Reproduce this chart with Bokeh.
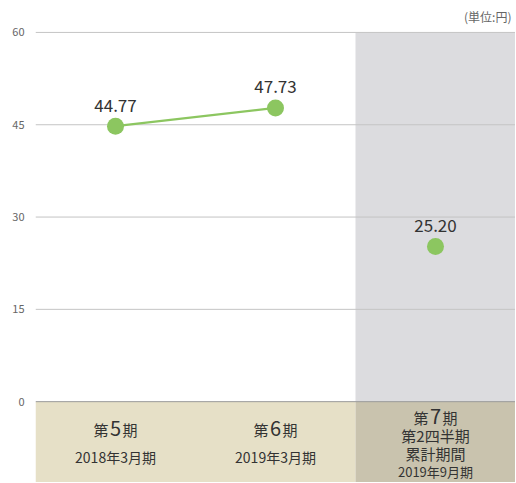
from bokeh.plotting import figure
from bokeh.models import ColumnDataSource, FixedTicker, Range1d
from bokeh.core.properties import value
from bokeh.embed import file_html
from bokeh.resources import INLINE

# ---- data ----
cat_prefix = "第"
cat_nums = ["5", "6", "7"]
cat_suffix = "期"
extra_lines = ["第2四半期", "累計期間"]          # only for the 3rd category
fiscal = ["2018年3月期", "2019年3月期", "2019年9月期"]
eps = [44.77, 47.73, 25.20]
eps_labels = ["44.77", "47.73", "25.20"]
y_ticks = [0, 15, 30, 45, 60]
unit_label = "(単位:円)"

FONT = "Noto Sans CJK JP"
OFF = 1                   # page offset of canvas
PX = 370 / 60.0          # pixels per unit
Y_TOP = 60 + (33 - OFF) / PX
Y_BOT = -(483 - 403) / PX - OFF / PX

def py(page_y):  # page pixel -> data y
    return (403 - page_y) / PX

n = len(eps)
xs = [i + 0.5 for i in range(n)]

p = figure(width=516 - OFF, height=483 - OFF, output_backend="svg", toolbar_location=None,
           x_range=Range1d(0, n), y_range=Range1d(Y_BOT, Y_TOP),
           x_axis_location=None, min_border_left=36 - OFF, min_border_right=0,
           min_border_top=0, min_border_bottom=0)
p.outline_line_color = None
p.xgrid.visible = False
p.ygrid.visible = False
p.background_fill_color = "white"
p.border_fill_color = "white"

# y axis
p.yaxis.ticker = FixedTicker(ticks=y_ticks)
p.yaxis.axis_line_color = None
p.yaxis.major_tick_line_color = None
p.yaxis.minor_tick_line_color = None
p.yaxis.major_label_text_font = FONT
p.yaxis.major_label_text_font_size = "11px"
p.yaxis.major_label_text_color = "#666666"
p.yaxis.major_label_standoff = 5

# bands
p.quad(left=[n - 1], right=[n], bottom=[0], top=[y_ticks[-1]],
       fill_color="#dcdcdf", line_color=None)
p.quad(left=[0], right=[n - 1], bottom=[Y_BOT], top=[0],
       fill_color="#e6e0c7", line_color=None)
p.quad(left=[n - 1], right=[n], bottom=[Y_BOT], top=[0],
       fill_color="#c9c3ae", line_color=None)

# grid lines
grid = [t for t in y_ticks if t != 0]
p.segment(x0=[0] * len(grid), x1=[n] * len(grid), y0=grid, y1=grid,
          line_color="#c4c4c4", line_width=1)
p.segment(x0=[0], x1=[n], y0=[0], y1=[0], line_color="#9a9a9a", line_width=1)

# line + points
green = "#8cc660"
p.line(xs[:2], eps[:2], line_color=green, line_width=2.2)
p.scatter(xs, eps, size=17, fill_color=green, line_color=None)

# value labels
src = ColumnDataSource(dict(x=xs, y=[v + 21 / PX for v in eps], t=eps_labels))
p.text(x="x", y="y", text="t", source=src, text_font=value(FONT),
       text_font_size="17px", text_color="#333333",
       text_align="center", text_baseline="middle")

# category labels
def cat_label(i, page_y, num_size="20px", kan_size="15px"):
    x = xs[i]
    y = py(page_y)
    p.text(x=[x], y=[y], text=[cat_prefix], text_font=value(FONT),
           text_font_size=kan_size, text_color="#333333",
           text_align="right", text_baseline="middle", x_offset=-7)
    p.text(x=[x], y=[y], text=[cat_nums[i]], text_font=value(FONT),
           text_font_size=num_size, text_color="#333333",
           text_align="center", text_baseline="middle", y_offset=-1)
    p.text(x=[x], y=[y], text=[cat_suffix], text_font=value(FONT),
           text_font_size=kan_size, text_color="#333333",
           text_align="left", text_baseline="middle", x_offset=7)

for i in range(n - 1):
    cat_label(i, 431)
    p.text(x=[xs[i]], y=[py(458)], text=[fiscal[i]], text_font=value(FONT),
           text_font_size="14px", text_color="#333333",
           text_align="center", text_baseline="middle")

i = n - 1
cat_label(i, 419)
for line, yy in zip(extra_lines, [437, 455]):
    p.text(x=[xs[i]], y=[py(yy)], text=[line], text_font=value(FONT),
           text_font_size="15px", text_color="#333333",
           text_align="center", text_baseline="middle")
p.text(x=[xs[i]], y=[py(473)], text=[fiscal[i]], text_font=value(FONT),
       text_font_size="13px", text_color="#333333",
       text_align="center", text_baseline="middle")

# unit label
p.text(x=[n], y=[py(17)], text=[unit_label], text_font=value(FONT),
       text_font_size="12px", text_color="#666666",
       text_align="right", text_baseline="middle", x_offset=-4)

open("out.html", "w").write(file_html(p, INLINE))
